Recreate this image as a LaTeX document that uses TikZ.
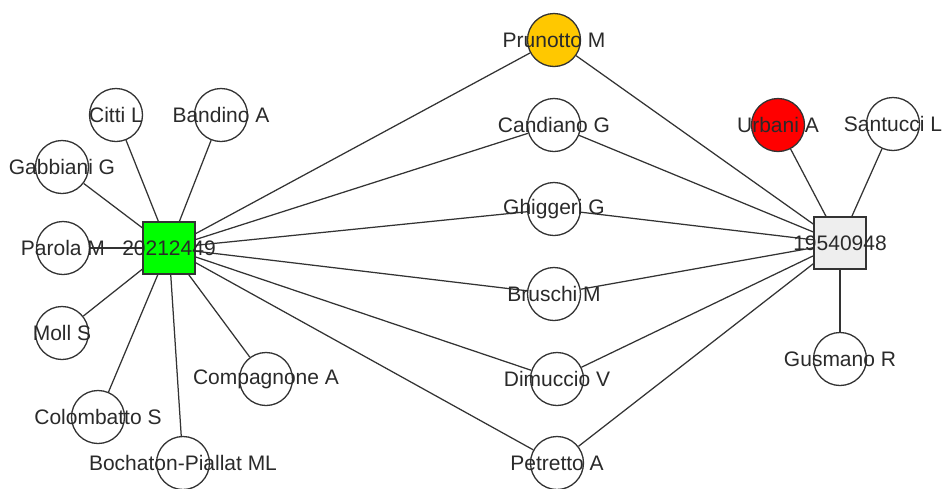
\documentclass[tikz,border=0pt]{standalone}
\usepackage{fontspec}
\setmainfont{Liberation Sans}
\usepackage{tikz}
\usepackage{xcolor}
\usetikzlibrary{backgrounds}

\definecolor{edgegray}{HTML}{333333}
\definecolor{txtgray}{HTML}{2A2A2A}
\definecolor{pubgreen}{HTML}{00FF00}
\definecolor{pubgray}{HTML}{EEEEEE}
\definecolor{authyellow}{HTML}{FFC800}
\definecolor{authred}{HTML}{FF0000}

\tikzset{
  author/.style={circle,draw=edgegray,line width=1.3pt,fill=white,minimum size=53pt,inner sep=0pt},
  paper/.style={rectangle,draw=edgegray,line width=1.3pt,minimum size=52pt,inner sep=0pt},
  link/.style={edgegray,line width=1.25pt},
  every label/.style={text=txtgray,font=\fontsize{21}{24}\selectfont,inner sep=0pt}
}

\begin{document}
\begin{tikzpicture}[x=1pt,y=-1pt]
\useasboundingbox (0,0) rectangle (944,488);
% papers
\node[paper,fill=pubgreen,label=center:20212449] (art1) at (169,248) {};
\node[paper,fill=pubgray,label=center:19540948] (art2) at (840,243) {};
% authors of the first paper only
\node[author,label=center:Citti L] (citti) at (116,115) {};
\node[author,label=center:Bandino A] (bandino) at (221,115) {};
\node[author,label=center:Gabbiani G] (gabbiani) at (62,167) {};
\node[author,label=center:Parola M] (parola) at (63,248) {};
\node[author,label=center:Moll S] (moll) at (62,333) {};
\node[author,label=center:Colombatto S] (colombatto) at (98,417) {};
\node[author,label=center:Bochaton-Piallat ML] (bochaton) at (183,463) {};
\node[author,label=center:Compagnone A] (compagnone) at (266,379) {};
% shared authors
\node[author,fill=authyellow,label=center:Prunotto M] (prunotto) at (554,40) {};
\node[author,label=center:Candiano G] (candiano) at (554,125) {};
\node[author,label=center:Ghiggeri G] (ghiggeri) at (554,209) {};
\node[author,label=center:Bruschi M] (bruschi) at (554,294) {};
\node[author,label=center:Dimuccio V] (dimuccio) at (557,379) {};
\node[author,label=center:Petretto A] (petretto) at (557,463) {};
% authors of the second paper only
\node[author,fill=authred,label=center:Urbani A] (urbani) at (778,125) {};
\node[author,label=center:Santucci L] (santucci) at (893,124) {};
\node[author,label=center:Gusmano R] (gusmano) at (840,359) {};

\begin{pgfonlayer}{background}
\draw[link] (art1) -- (citti);
\draw[link] (art1) -- (bandino);
\draw[link] (art1) -- (gabbiani);
\draw[link] (art1) -- (parola);
\draw[link] (art1) -- (moll);
\draw[link] (art1) -- (colombatto);
\draw[link] (art1) -- (bochaton);
\draw[link] (art1) -- (compagnone);
\draw[link] (art1) -- (prunotto);
\draw[link] (art1) -- (candiano);
\draw[link] (art1) -- (ghiggeri);
\draw[link] (art1) -- (bruschi);
\draw[link] (art1) -- (dimuccio);
\draw[link] (art1) -- (petretto);
\draw[link] (art2) -- (prunotto);
\draw[link] (art2) -- (candiano);
\draw[link] (art2) -- (ghiggeri);
\draw[link] (art2) -- (bruschi);
\draw[link] (art2) -- (dimuccio);
\draw[link] (art2) -- (petretto);
\draw[link] (art2) -- (urbani);
\draw[link] (art2) -- (santucci);
\draw[link] (art2) -- (gusmano);
\end{pgfonlayer}
\end{tikzpicture}
\end{document}
